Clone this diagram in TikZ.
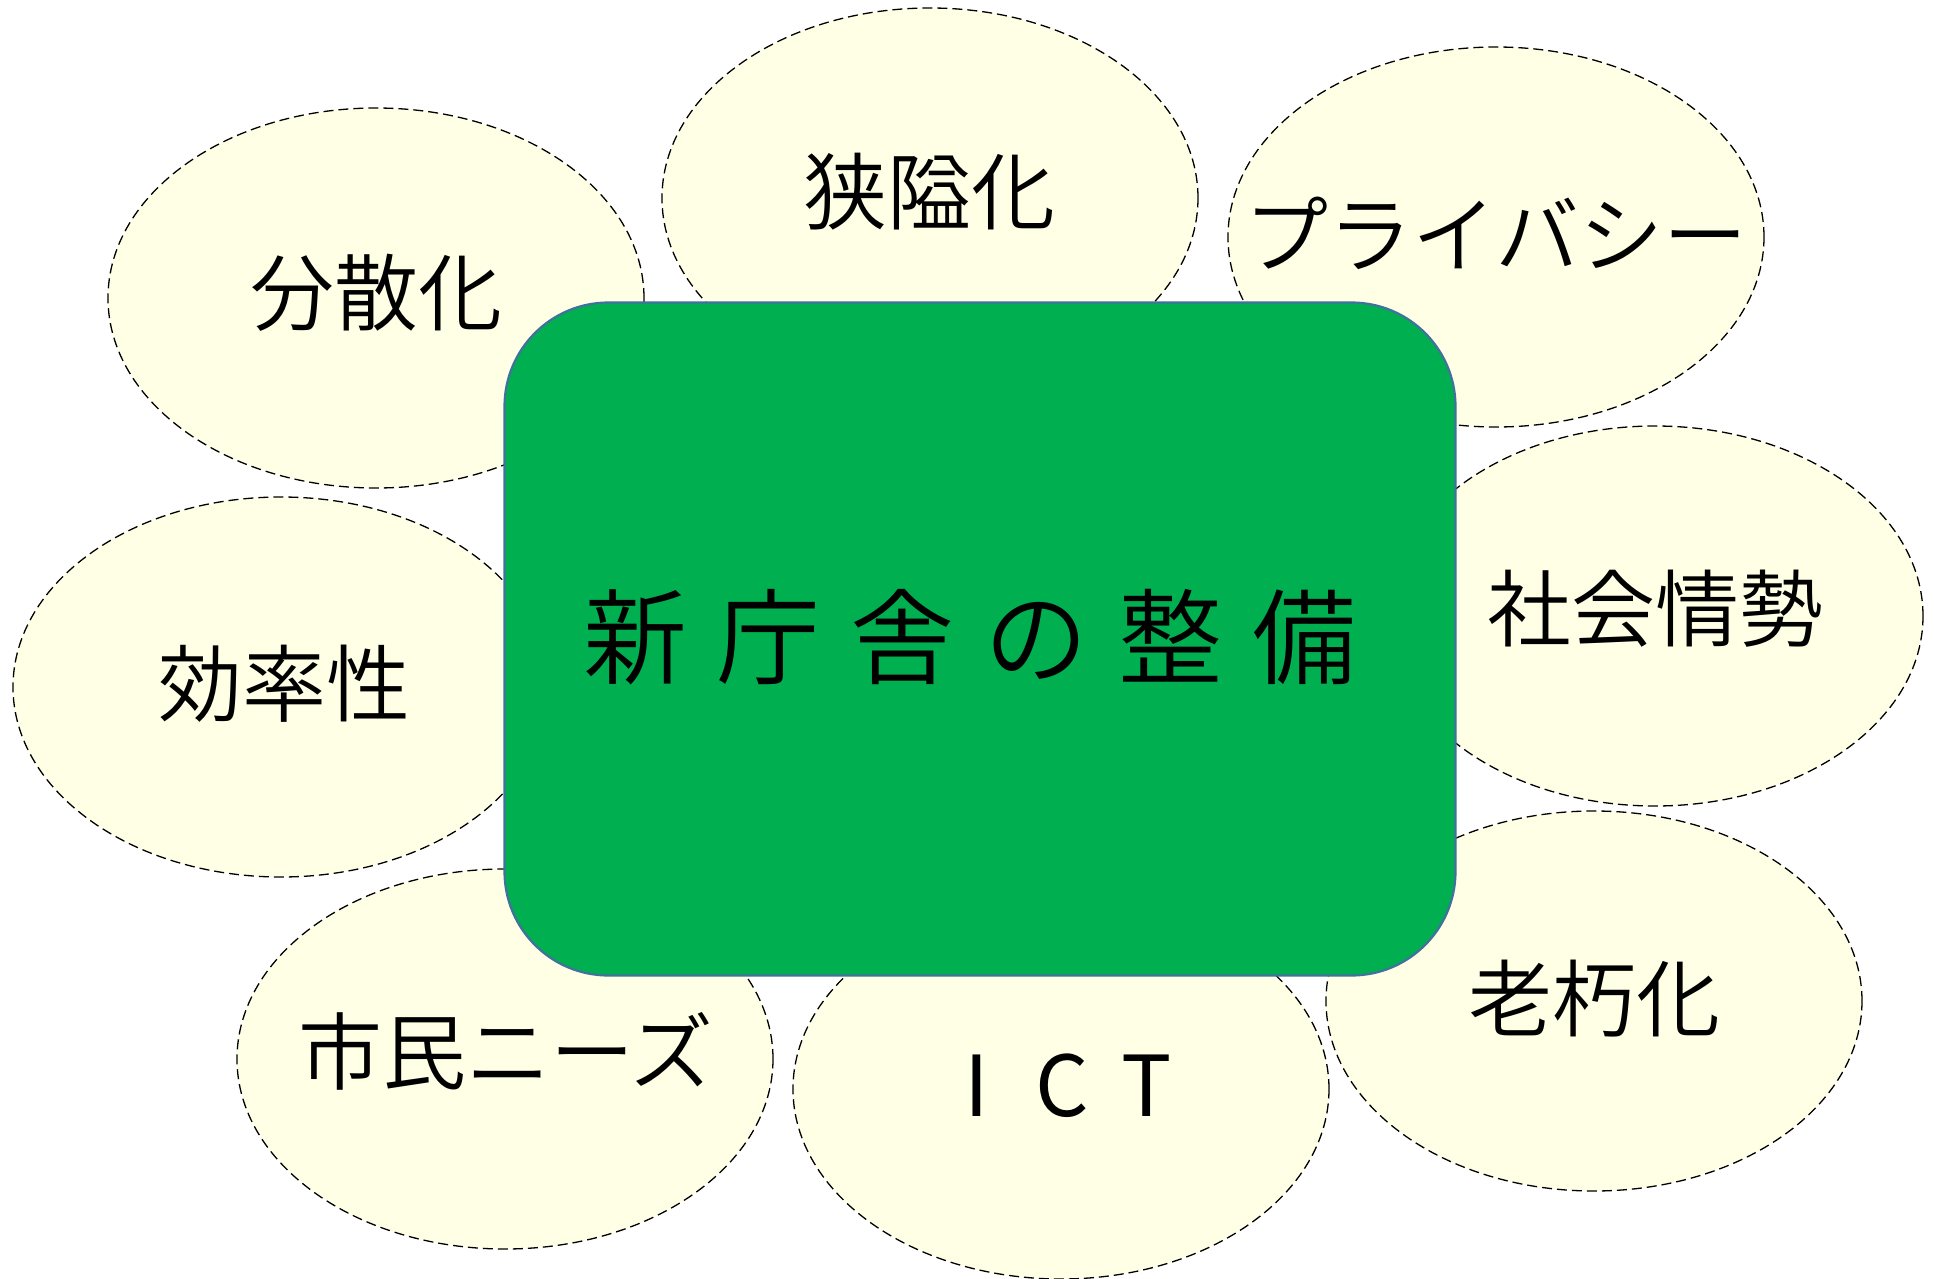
\documentclass[tikz,border=0pt]{standalone}
\usepackage{fontspec}
\setmainfont{Noto Sans CJK JP}[UprightFont={* DemiLight}]
\newfontfamily\latinreg{Noto Sans CJK JP}
\usetikzlibrary{shapes.geometric}
\definecolor{bubblefill}{HTML}{FFFFE5}
\definecolor{maingreen}{HTML}{00B050}
\definecolor{mainborder}{HTML}{41719C}
\tikzset{
  bubble/.style={ellipse, draw=black, fill=bubblefill, line width=0.65pt,
    dash pattern=on 5pt off 2.5pt, minimum width=268pt, minimum height=190pt, inner sep=0pt},
  bubbletext/.style={font=\fontsize{42}{50}\selectfont, inner sep=0pt},
  mainbox/.style={fill=maingreen, draw=mainborder, line width=1.1pt, rounded corners=52pt,
    minimum width=475.5pt, minimum height=336.5pt, inner sep=0pt},
  titletext/.style={font=\fontsize{52}{60}\selectfont, inner sep=0pt}
}
\newcommand{\lcell}[1]{\makebox[42.5pt][c]{#1}}
\begin{document}
\begin{tikzpicture}[x=0.5pt, y=-0.5pt]
\useasboundingbox (0,0) rectangle (1934,1279);
\fill[white] (0,0) rectangle (1934,1279);
% bubbles
\node[bubble] (b1) at (376,298) {};
\node[bubble] (b2) at (930,198) {};
\node[bubble] (b3) at (1496,237) {};
\node[bubble] (b4) at (1655,616) {};
\node[bubble] (b5) at (1594,1001) {};
\node[bubble] (b6) at (1061,1089) {};
\node[bubble] (b7) at (505,1059) {};
\node[bubble] (b8) at (281,687) {};
% bubble texts
\node[bubbletext] (t1) at (376,293) {分散化};
\node[bubbletext] (t2) at (929,192) {狭隘化};
\node[bubbletext] (t3) at (1496,233) {プライバシー};
\node[bubbletext] (t4) at (1655,609) {社会情勢};
\node[bubbletext] (t5) at (1594,999) {老朽化};
\node[bubbletext, font=\fontsize{42}{50}\latinreg] (t6) at (1062,1086) {\lcell{I}\lcell{C}\lcell{T}};
\node[bubbletext] (t7) at (506,1051) {市民ニーズ};
\node[bubbletext] (t8) at (284,684) {効率性};
% main box
\node[mainbox] (main) at (980,639) {};
\node[titletext] (title) at (970,637) {新\hspace{15pt}庁\hspace{15pt}舎\hspace{15pt}の\hspace{15pt}整\hspace{15pt}備};
\end{tikzpicture}
\end{document}
